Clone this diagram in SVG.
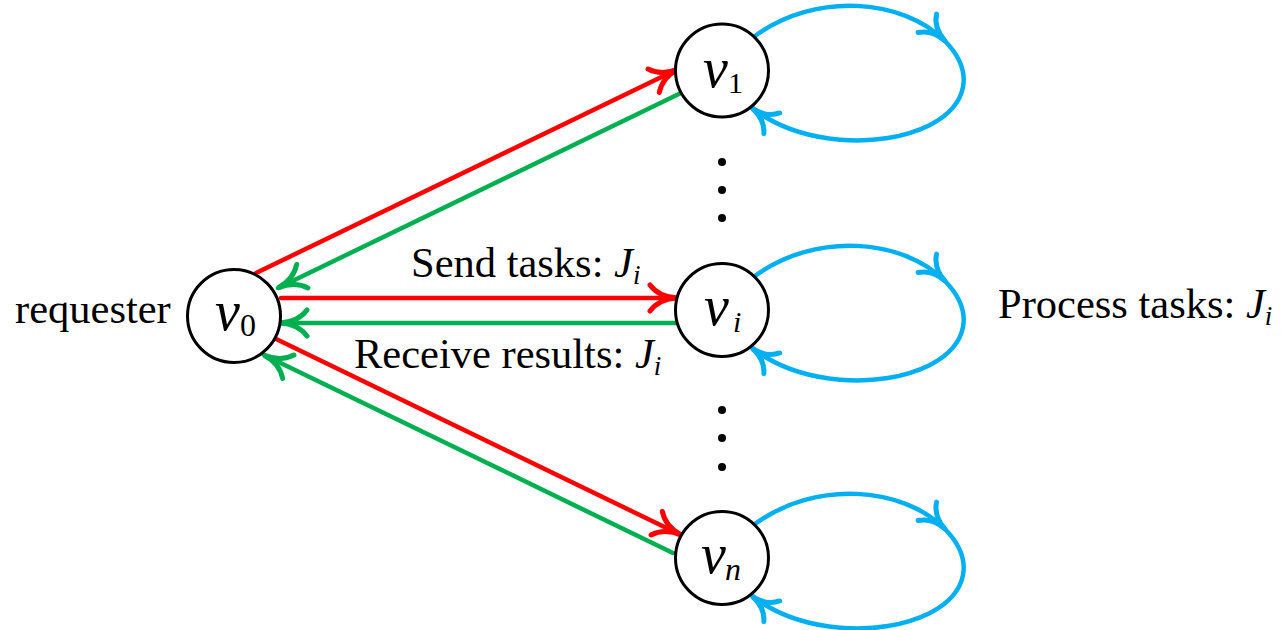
<svg xmlns="http://www.w3.org/2000/svg" width="1281" height="630" viewBox="0 0 1281 630">
  <style>
    .node circle { fill: #ffffff; stroke: #000000; stroke-width: 3; }
    .math { font-family: "Liberation Serif", "Times New Roman", serif; font-style: italic; fill: #000; }
    .sub { font-family: "Liberation Serif", "Times New Roman", serif; fill: #000; }
    .label { font-family: "Liberation Serif", "Times New Roman", serif; font-size: 42.5px; fill: #000; }
    .red { stroke: #ff0000; stroke-width: 4.5; fill: none; stroke-linecap: round; }
    .green { stroke: #00b050; stroke-width: 4.5; fill: none; stroke-linecap: round; }
    .blue { stroke: #00b0f0; stroke-width: 4.5; fill: none; stroke-linecap: round; }
    .dot { fill: #000; }
  </style>
  <defs>
    <marker id="arrRed" markerUnits="userSpaceOnUse" orient="auto" refX="0" refY="0" markerWidth="30" markerHeight="30" overflow="visible">
      <path d="M-27,-13 Q-18,-1 0,0 Q-18,1 -27,13" fill="none" stroke="#ff0000" stroke-width="5" stroke-linecap="round"/>
    </marker>
    <marker id="arrGreen" markerUnits="userSpaceOnUse" orient="auto" refX="0" refY="0" markerWidth="30" markerHeight="30" overflow="visible">
      <path d="M-27,-13 Q-18,-1 0,0 Q-18,1 -27,13" fill="none" stroke="#00b050" stroke-width="5" stroke-linecap="round"/>
    </marker>
    <marker id="arrBlue" markerUnits="userSpaceOnUse" orient="auto" refX="0" refY="0" markerWidth="30" markerHeight="30" overflow="visible">
      <path d="M-25,-13 Q-17,-1 0,0 Q-17,1 -25,13" fill="none" stroke="#00b0f0" stroke-width="5" stroke-linecap="round"/>
    </marker>
    <!-- self loop on the right side of a worker node centred at (722,70) -->
    <g id="selfLoop">
      <path class="blue" d="M755,36 C815,-8 902,-2 945,41" marker-end="url(#arrBlue)"/>
      <path class="blue" d="M945,41 C975,72 968,105 930,125 C880,150 800,145 752,108" marker-end="url(#arrBlue)"/>
    </g>
  </defs>

  <rect width="1281" height="630" fill="#ffffff"/>

  <!-- connectors -->
  <g id="connectors">
    <line class="red" x1="256" y1="273" x2="678" y2="69" marker-end="url(#arrRed)"/>
    <line class="green" x1="683" y1="92" x2="278" y2="288" marker-end="url(#arrGreen)"/>
    <line class="red" x1="281" y1="298" x2="677" y2="298" marker-end="url(#arrRed)"/>
    <line class="green" x1="676" y1="323" x2="280" y2="323" marker-end="url(#arrGreen)"/>
    <line class="red" x1="272" y1="337" x2="681" y2="535" marker-end="url(#arrRed)"/>
    <line class="green" x1="673" y1="553" x2="264" y2="355" marker-end="url(#arrGreen)"/>
    <use href="#selfLoop"/>
    <use href="#selfLoop" transform="translate(0,240)"/>
    <use href="#selfLoop" transform="translate(0,488)"/>
  </g>

  <!-- vertical ellipses between workers -->
  <g id="ellipsis">
    <circle class="dot" cx="722" cy="162" r="4"/>
    <circle class="dot" cx="722" cy="190" r="4"/>
    <circle class="dot" cx="722" cy="218" r="4"/>
    <circle class="dot" cx="722" cy="410" r="4"/>
    <circle class="dot" cx="722" cy="438" r="4"/>
    <circle class="dot" cx="722" cy="467" r="4"/>
  </g>

  <!-- nodes -->
  <g id="v0" class="node">
    <circle cx="234" cy="316" r="46.5"/>
    <text class="math" x="215" y="330" font-size="56">v</text>
    <text class="sub" x="240" y="336" font-size="32">0</text>
  </g>
  <g id="v1" class="node">
    <circle cx="722" cy="70.5" r="46.5"/>
    <text class="math" x="703" y="87" font-size="56">v</text>
    <text class="sub" x="728" y="93" font-size="30">1</text>
  </g>
  <g id="vi" class="node">
    <circle cx="722" cy="310" r="46.5"/>
    <text class="math" x="704" y="325" font-size="56">v</text>
    <text class="math" x="733" y="332" font-size="30">i</text>
  </g>
  <g id="vn" class="node">
    <circle cx="722" cy="558" r="46.5"/>
    <text class="math" x="701" y="573" font-size="56">v</text>
    <text class="math" x="725" y="580" font-size="32">n</text>
  </g>

  <!-- labels -->
  <g id="labels">
    <text class="label" x="15" y="323">requester</text>
    <text class="label" x="411" y="277">Send tasks: <tspan font-style="italic">J</tspan><tspan font-style="italic" font-size="27" dy="7">i</tspan></text>
    <text class="label" x="354" y="368">Receive results: <tspan font-style="italic">J</tspan><tspan font-style="italic" font-size="27" dy="7">i</tspan></text>
    <text class="label" x="998" y="318" font-size="41.5">Process tasks: <tspan font-style="italic">J</tspan><tspan font-style="italic" font-size="27" dy="7">i</tspan></text>
  </g>
</svg>
